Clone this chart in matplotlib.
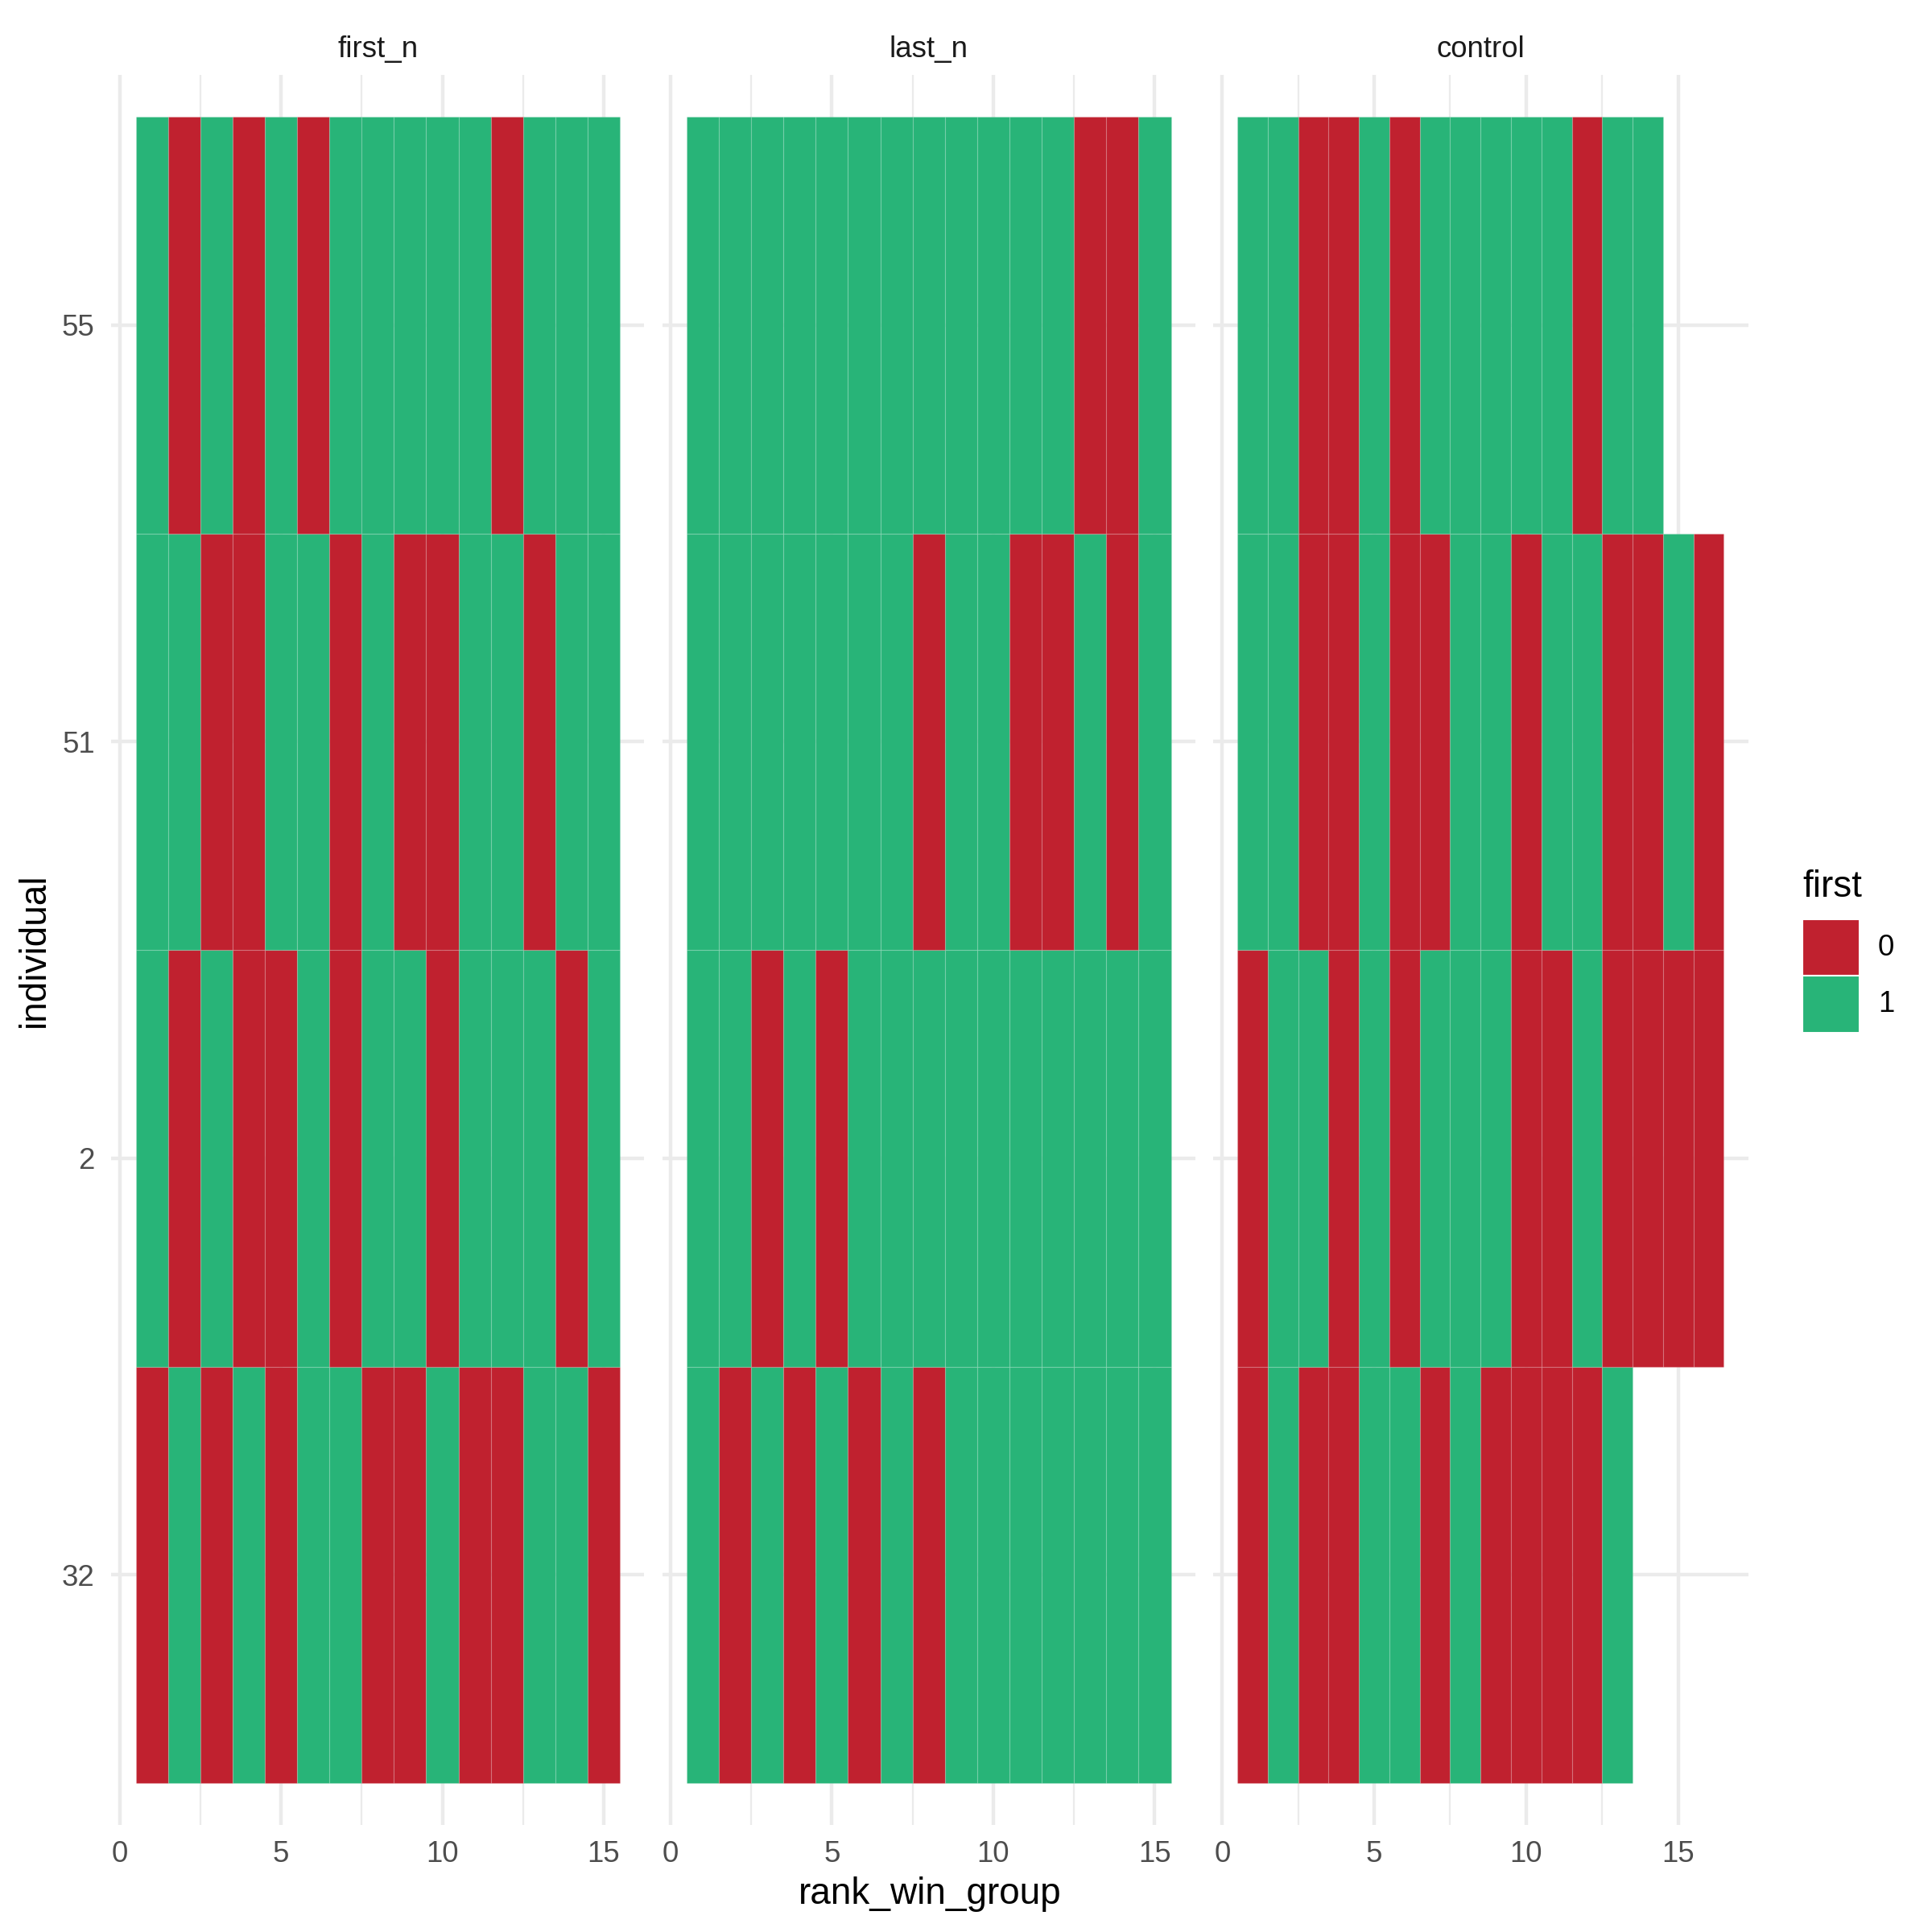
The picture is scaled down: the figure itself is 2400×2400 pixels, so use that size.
import numpy as np
import matplotlib.pyplot as plt
from matplotlib.patches import Rectangle

plt.rcParams['font.family'] = ['Liberation Sans', 'DejaVu Sans']

# facets and rows (bottom to top)
facets = ["first_n", "last_n", "control"]
individuals = ["32", "2", "51", "55"]

# value of "first" for rank_win_group = 1, 2, 3, ... (one list per individual)
first_n_vals = [
    [0, 1, 0, 1, 0, 1, 1, 0, 0, 1, 0, 0, 1, 1, 0],   # 32
    [1, 0, 1, 0, 0, 1, 0, 1, 1, 0, 1, 1, 1, 0, 1],   # 2
    [1, 1, 0, 0, 1, 1, 0, 1, 0, 0, 1, 1, 0, 1, 1],   # 51
    [1, 0, 1, 0, 1, 0, 1, 1, 1, 1, 1, 0, 1, 1, 1],   # 55
]
last_n_vals = [
    [1, 0, 1, 0, 1, 0, 1, 0, 1, 1, 1, 1, 1, 1, 1],   # 32
    [1, 1, 0, 1, 0, 1, 1, 1, 1, 1, 1, 1, 1, 1, 1],   # 2
    [1, 1, 1, 1, 1, 1, 1, 0, 1, 1, 0, 0, 1, 0, 1],   # 51
    [1, 1, 1, 1, 1, 1, 1, 1, 1, 1, 1, 1, 0, 0, 1],   # 55
]
control_vals = [
    [0, 1, 0, 0, 1, 1, 0, 1, 0, 0, 0, 0, 1],               # 32
    [0, 1, 1, 0, 1, 0, 1, 1, 1, 0, 0, 1, 0, 0, 0, 0],      # 2
    [1, 1, 0, 0, 1, 0, 0, 1, 1, 0, 1, 1, 0, 0, 1, 0],      # 51
    [1, 1, 0, 0, 1, 0, 1, 1, 1, 1, 1, 0, 1, 1],            # 55
]
all_vals = [first_n_vals, last_n_vals, control_vals]

fill_colors = {0: "#C0212F", 1: "#28B478"}
legend_levels = [0, 1]

grid_col = "#EBEBEB"
fig = plt.figure(figsize=(8, 8), dpi=300)

# panel boxes in figure fraction
panel_x = [(0.0577, 0.3334), (0.3428, 0.6186), (0.6279, 0.9048)]
bottom, top = 0.0555, 0.9611

for k, (name, vals) in enumerate(zip(facets, all_vals)):
    x0, x1 = panel_x[k]
    ax = fig.add_axes([x0, bottom, x1 - x0, top - bottom])
    for i, row in enumerate(vals):
        ranks = np.arange(1, len(row) + 1)
        cols = [fill_colors[v] for v in row]
        ax.bar(ranks, 1, width=1, bottom=i + 0.5, color=cols,
               edgecolor=(1, 1, 1, 0.12), linewidth=0.3)
    n = max(len(r) for r in vals)
    lo, hi = 0.5, n + 0.5
    pad = (hi - lo) * 0.05
    ax.set_xlim(lo - pad, hi + pad)
    ax.set_ylim(0.4, len(individuals) + 0.6)
    ax.set_xticks([0, 5, 10, 15])
    ax.set_xticks([2.5, 7.5, 12.5], minor=True)
    ax.set_yticks(np.arange(1, len(individuals) + 1))
    if k == 0:
        ax.set_yticklabels(individuals)
    else:
        ax.set_yticklabels([])
    ax.grid(which='major', color=grid_col, linewidth=1.07)
    ax.grid(which='minor', axis='x', color=grid_col, linewidth=0.53)
    ax.set_axisbelow(True)
    for s in ax.spines.values():
        s.set_visible(False)
    ax.tick_params(which='both', length=0, labelsize=8.8, labelcolor="#4D4D4D")
    ax.tick_params(axis='x', pad=4.6)
    ax.tick_params(axis='y', pad=5)
    ax.set_title(name, fontsize=8.8, color="#1A1A1A", pad=5.3)

fig.text(0.018, (bottom + top) / 2, "individual", rotation=90, fontsize=11,
         ha='center', va='center')
fig.text((panel_x[0][0] + panel_x[2][1]) / 2, 0.0195, "rank_win_group",
         fontsize=11, ha='center', va='center')

# legend
fig.text(0.933, 0.5408, "first", fontsize=11, ha='left', va='center')
key = 0.0293
key_bottoms = [0.4949, 0.4656]
for lev, kb in zip(legend_levels, key_bottoms):
    fig.add_artist(Rectangle((0.933, kb), key, key, transform=fig.transFigure,
                             facecolor=fill_colors[lev], edgecolor='white',
                             linewidth=0.5))
    fig.text(0.972, kb + key / 2, str(lev), fontsize=8.8, ha='left', va='center')

plt.savefig("out.png", dpi=300)
